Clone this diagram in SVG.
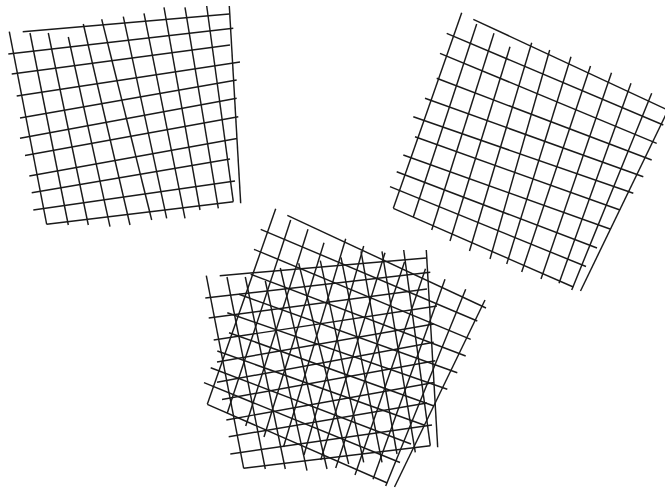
<svg xmlns="http://www.w3.org/2000/svg" xmlns:xlink="http://www.w3.org/1999/xlink" width="665" height="488" viewBox="0 0 665 488">
<style>
.g line{stroke:#1a1a1a;stroke-width:1.45;fill:none}
</style>
<defs>
<g id="gridA" class="g">
<line x1="9.3" y1="31.7" x2="46.7" y2="224.3"/>
<line x1="30" y1="33" x2="68.3" y2="225"/>
<line x1="48.3" y1="33" x2="88.3" y2="225"/>
<line x1="68.3" y1="37" x2="110" y2="226.7"/>
<line x1="83.3" y1="24" x2="130" y2="225"/>
<line x1="101.7" y1="19.3" x2="151.7" y2="220"/>
<line x1="123.3" y1="16.7" x2="166.7" y2="218.3"/>
<line x1="144" y1="13.3" x2="185" y2="218.3"/>
<line x1="164" y1="7.3" x2="200" y2="210"/>
<line x1="185" y1="7.3" x2="218.3" y2="208.3"/>
<line x1="206.7" y1="6" x2="233.3" y2="201.7"/>
<line x1="229.3" y1="6" x2="240.7" y2="203.3"/>
<line x1="22.7" y1="31.7" x2="229.3" y2="14"/>
<line x1="8.3" y1="54" x2="233.3" y2="28.3"/>
<line x1="11.7" y1="74" x2="230" y2="45"/>
<line x1="16.7" y1="96" x2="240" y2="62"/>
<line x1="20" y1="118" x2="236.7" y2="80"/>
<line x1="20" y1="138.3" x2="236.7" y2="98.3"/>
<line x1="25" y1="155.5" x2="238.3" y2="116.7"/>
<line x1="29.3" y1="176" x2="237" y2="138.5"/>
<line x1="31.7" y1="192.7" x2="230" y2="159"/>
<line x1="33.3" y1="210" x2="235" y2="181"/>
<line x1="46.7" y1="224.3" x2="233.3" y2="201.7"/>
</g>
<g id="gridB" class="g">
<line x1="461.7" y1="12.7" x2="393.3" y2="208.3"/>
<line x1="476.7" y1="24" x2="413.3" y2="217"/>
<line x1="494" y1="33.3" x2="431.7" y2="230"/>
<line x1="510" y1="46.7" x2="450" y2="241"/>
<line x1="531.7" y1="42.7" x2="469.5" y2="251"/>
<line x1="549.7" y1="50" x2="490" y2="259"/>
<line x1="571" y1="56.7" x2="506.7" y2="264"/>
<line x1="590.5" y1="66" x2="521.7" y2="272"/>
<line x1="611.5" y1="72.7" x2="541" y2="279"/>
<line x1="631" y1="83.3" x2="559" y2="283.3"/>
<line x1="651.7" y1="93.3" x2="571.7" y2="290"/>
<line x1="671" y1="104" x2="580.5" y2="291"/>
<line x1="473.3" y1="19.3" x2="672" y2="112"/>
<line x1="446.7" y1="33.3" x2="663.3" y2="125"/>
<line x1="440" y1="53.3" x2="656.7" y2="143.3"/>
<line x1="436.7" y1="78.3" x2="651.7" y2="160"/>
<line x1="425" y1="98.3" x2="643.3" y2="176.7"/>
<line x1="413.3" y1="116.7" x2="633.3" y2="193.3"/>
<line x1="415" y1="136.7" x2="620" y2="210"/>
<line x1="403.3" y1="155" x2="610" y2="229"/>
<line x1="396.7" y1="171.7" x2="597" y2="248"/>
<line x1="390" y1="186.7" x2="586" y2="266.5"/>
<line x1="393.3" y1="208.3" x2="573.3" y2="287"/>
</g>
</defs>
<use id="grid-left" href="#gridA" xlink:href="#gridA"/>
<use id="grid-right" href="#gridB" xlink:href="#gridB"/>
<g id="grid-overlay">
<use href="#gridA" xlink:href="#gridA" transform="translate(197,244)"/>
<use href="#gridB" xlink:href="#gridB" transform="translate(-186,196)"/>
</g>
</svg>
